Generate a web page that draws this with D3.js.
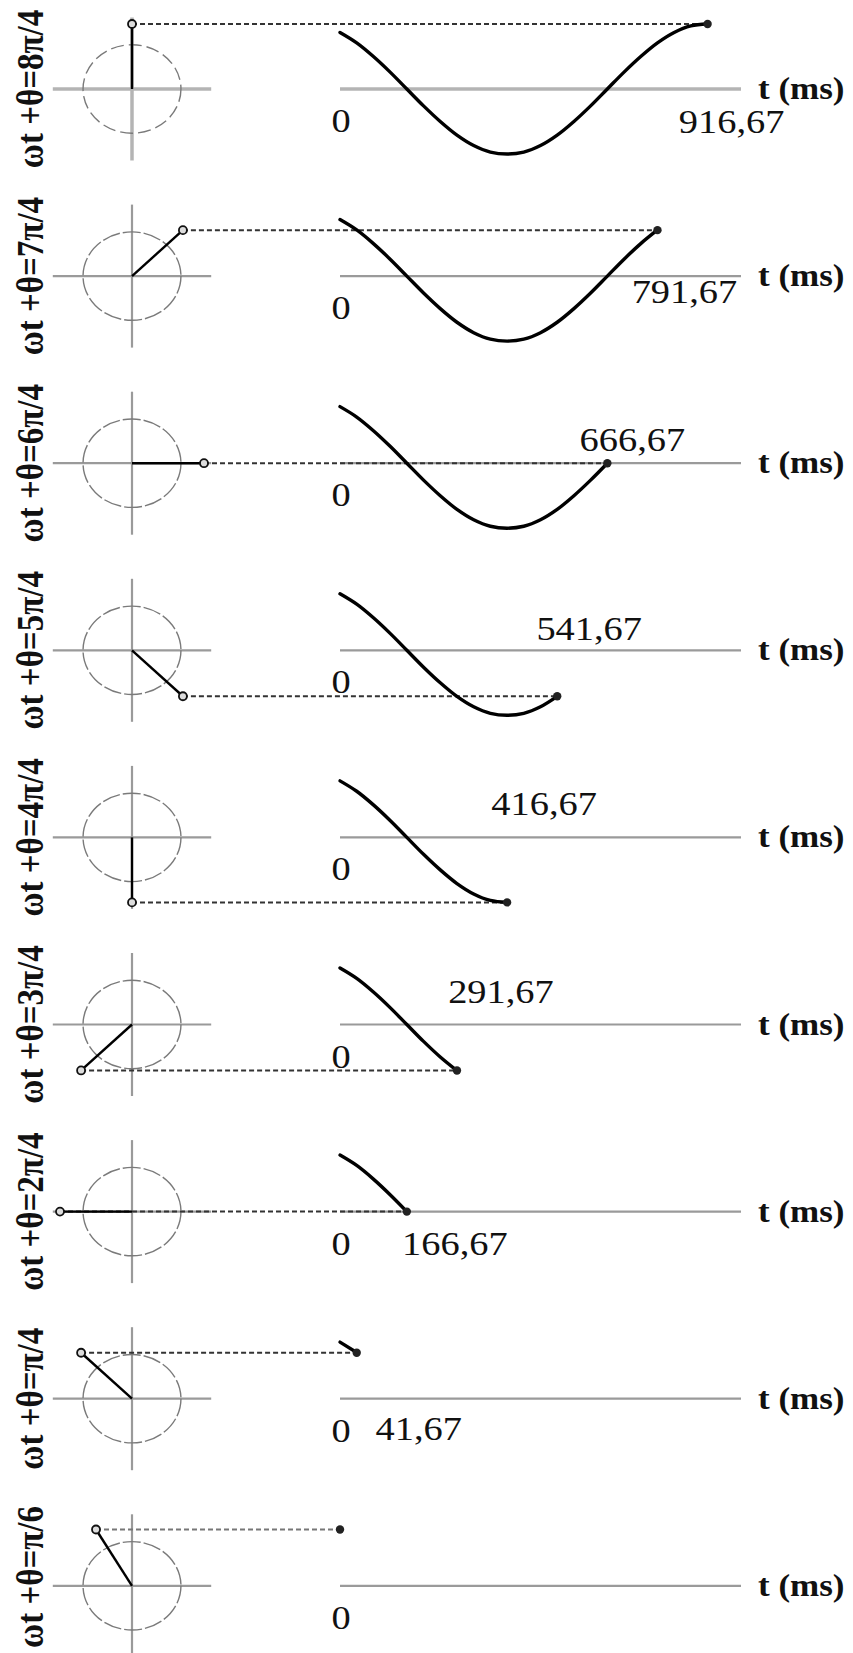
<!DOCTYPE html>
<html lang="en">
<head>
    <meta charset="utf-8">
    <title>Phasor and waveform</title>
    <script type="text/javascript" src="https://cdn.jsdelivr.net/npm/d3@7"></script>
    <style>
        body { margin: 0; background: #fff; }
        text { font-family: "Liberation Serif", "Times New Roman", serif; fill: #111; }
    </style>
</head>
<body>
<script type="text/javascript">
    // one row per phase, top to bottom
    var phaseLabels = ["ωt +θ=8π/4", "ωt +θ=7π/4", "ωt +θ=6π/4", "ωt +θ=5π/4", "ωt +θ=4π/4",
                       "ωt +θ=3π/4", "ωt +θ=2π/4", "ωt +θ=π/4", "ωt +θ=π/6"];
    var phaseTurns = [8/4, 7/4, 6/4, 5/4, 4/4, 3/4, 2/4, 1/4, 1/6];   // multiples of pi
    var endTimes = [916.67, 791.67, 666.67, 541.67, 416.67, 291.67, 166.67, 41.67, 0];
    var endLabels = ["916,67", "791,67", "666,67", "541,67", "416,67", "291,67", "166,67", "41,67", ""];

    // waveform, every 41.67 ms
    var sampleTimes = [0, 41.67, 83.33, 125, 166.67, 208.33, 250, 291.67, 333.33, 375, 416.67,
                       458.33, 500, 541.67, 583.33, 625, 666.67, 708.33, 750, 791.67, 833.33, 875, 916.67];
    var sampleValues = [0.87, 0.71, 0.5, 0.26, 0, -0.26, -0.5, -0.71, -0.87, -0.97, -1,
                        -0.97, -0.87, -0.71, -0.5, -0.26, 0, 0.26, 0.5, 0.71, 0.87, 0.97, 1];
    var circleRadius = 0.68;
    var crossHalf = 1.1;
    var zeroLabel = "0";
    var unitLabel = "t (ms)";

    // label placement (layout only)
    var labelDx = [24, 27, 25, 32, 37, 44, 48, 62, 0];
    var labelDy = [33, 16, -23, -21, -33, -33, 32, 30, 0];

    var w = 853;
    var h = 1653;
    var rowTop = 89;
    var rowStep = 187.1;
    var stretch = 1.13;

    var xScale = d3.scaleLinear().domain([0, 1000]).range([340, 741]);
    var yScale = d3.scaleLinear().domain([-1, 1]).range([65, -65]);
    var pScale = d3.scaleLinear().domain([-1, 1]).range([60, 204]);

    var svg = d3.select("body")
        .append("svg")
        .attr("width", w)
        .attr("height", h);

    var line = d3.line()
        .x(function(d) { return xScale(d[0]); })
        .y(function(d) { return yScale(d[1]); })
        .curve(d3.curveCatmullRom);

    var rows = svg.selectAll("g.row")
        .data(phaseLabels)
        .enter()
        .append("g")
        .attr("class", "row")
        .attr("transform", function(d, i) { return "translate(0," + (rowTop + i * rowStep) + ")"; });

    rows.each(function(label, i) {
        var g = d3.select(this);
        var ang = phaseTurns[i] * Math.PI;
        var u = -Math.sin(ang), v = Math.cos(ang);
        var gray = i === 0 ? "#b4b4b4" : "#9a9a9a";
        var gw = i === 0 ? 3.5 : 2.2;
        var rowY = rowTop + i * rowStep;

        // time axis
        g.append("line")
            .attr("x1", xScale(0)).attr("x2", xScale(1000))
            .attr("y1", yScale(0)).attr("y2", yScale(0))
            .attr("stroke", gray).attr("stroke-width", gw);

        // phasor cross and circle
        g.append("line")
            .attr("x1", pScale(-crossHalf)).attr("x2", pScale(crossHalf))
            .attr("y1", yScale(0)).attr("y2", yScale(0))
            .attr("stroke", gray).attr("stroke-width", gw);
        g.append("line")
            .attr("x1", pScale(0)).attr("x2", pScale(0))
            .attr("y1", yScale(crossHalf)).attr("y2", yScale(-crossHalf))
            .attr("stroke", gray).attr("stroke-width", gw);
        g.append("ellipse")
            .attr("cx", pScale(0)).attr("cy", yScale(0))
            .attr("rx", pScale(circleRadius) - pScale(0))
            .attr("ry", yScale(0) - yScale(circleRadius))
            .attr("fill", "none")
            .attr("stroke", "#7a7a7a").attr("stroke-width", 1.4)
            .attr("stroke-dasharray", i === 0 ? "13,5" : "18,3");

        // projection
        g.append("line")
            .attr("x1", pScale(u)).attr("x2", xScale(endTimes[i]))
            .attr("y1", yScale(v)).attr("y2", yScale(v))
            .attr("stroke", i === 8 ? "#777" : "#333").attr("stroke-width", 2)
            .attr("stroke-dasharray", "5,3");

        // waveform so far
        var pts = sampleTimes.map(function(t, k) { return [t, sampleValues[k]]; })
            .filter(function(p) { return p[0] <= endTimes[i] + 0.01; });
        if (pts.length > 1) {
            g.append("path")
                .attr("d", line(pts))
                .attr("fill", "none")
                .attr("stroke", "#000").attr("stroke-width", 3.4)
                .attr("stroke-linecap", "round");
        }
        g.append("circle")
            .attr("cx", xScale(endTimes[i])).attr("cy", yScale(v))
            .attr("r", 4.2).attr("fill", "#222");

        // phasor
        g.append("line")
            .attr("x1", pScale(0)).attr("x2", pScale(u))
            .attr("y1", yScale(0)).attr("y2", yScale(v))
            .attr("stroke", "#000").attr("stroke-width", 2.4);
        g.append("circle")
            .attr("cx", pScale(u)).attr("cy", yScale(v))
            .attr("r", 4).attr("fill", "#ddd")
            .attr("stroke", "#111").attr("stroke-width", 1.8);

        // texts
        var side = g.append("text")
            .attr("text-anchor", "middle")
            .attr("font-size", 33)
            .attr("font-weight", "bold")
            .text(label);
        var half = side.node().getComputedTextLength() / 2;
        var cy = Math.min(yScale(0), h - 5 - half - rowY);
        side.attr("transform", "translate(43," + cy + ") scale(" + stretch + ",1) rotate(-90)");

        g.append("text")
            .attr("transform", "translate(" + (xScale(0) + 1) + "," + (yScale(0) + 43) + ") scale(" + stretch + ",1)")
            .attr("text-anchor", "middle")
            .attr("font-size", 34)
            .text(zeroLabel);

        if (endLabels[i]) {
            g.append("text")
                .attr("transform", "translate(" + (xScale(endTimes[i]) + labelDx[i]) + "," +
                    (yScale(0) + labelDy[i] + 11) + ") scale(" + stretch + ",1)")
                .attr("text-anchor", "middle")
                .attr("font-size", 34)
                .text(endLabels[i]);
        }

        g.append("text")
            .attr("transform", "translate(758," + (yScale(0) + 10) + ") scale(" + stretch + ",1)")
            .attr("font-size", 31)
            .attr("font-weight", "bold")
            .text(unitLabel);
    });
</script>
</body>
</html>
